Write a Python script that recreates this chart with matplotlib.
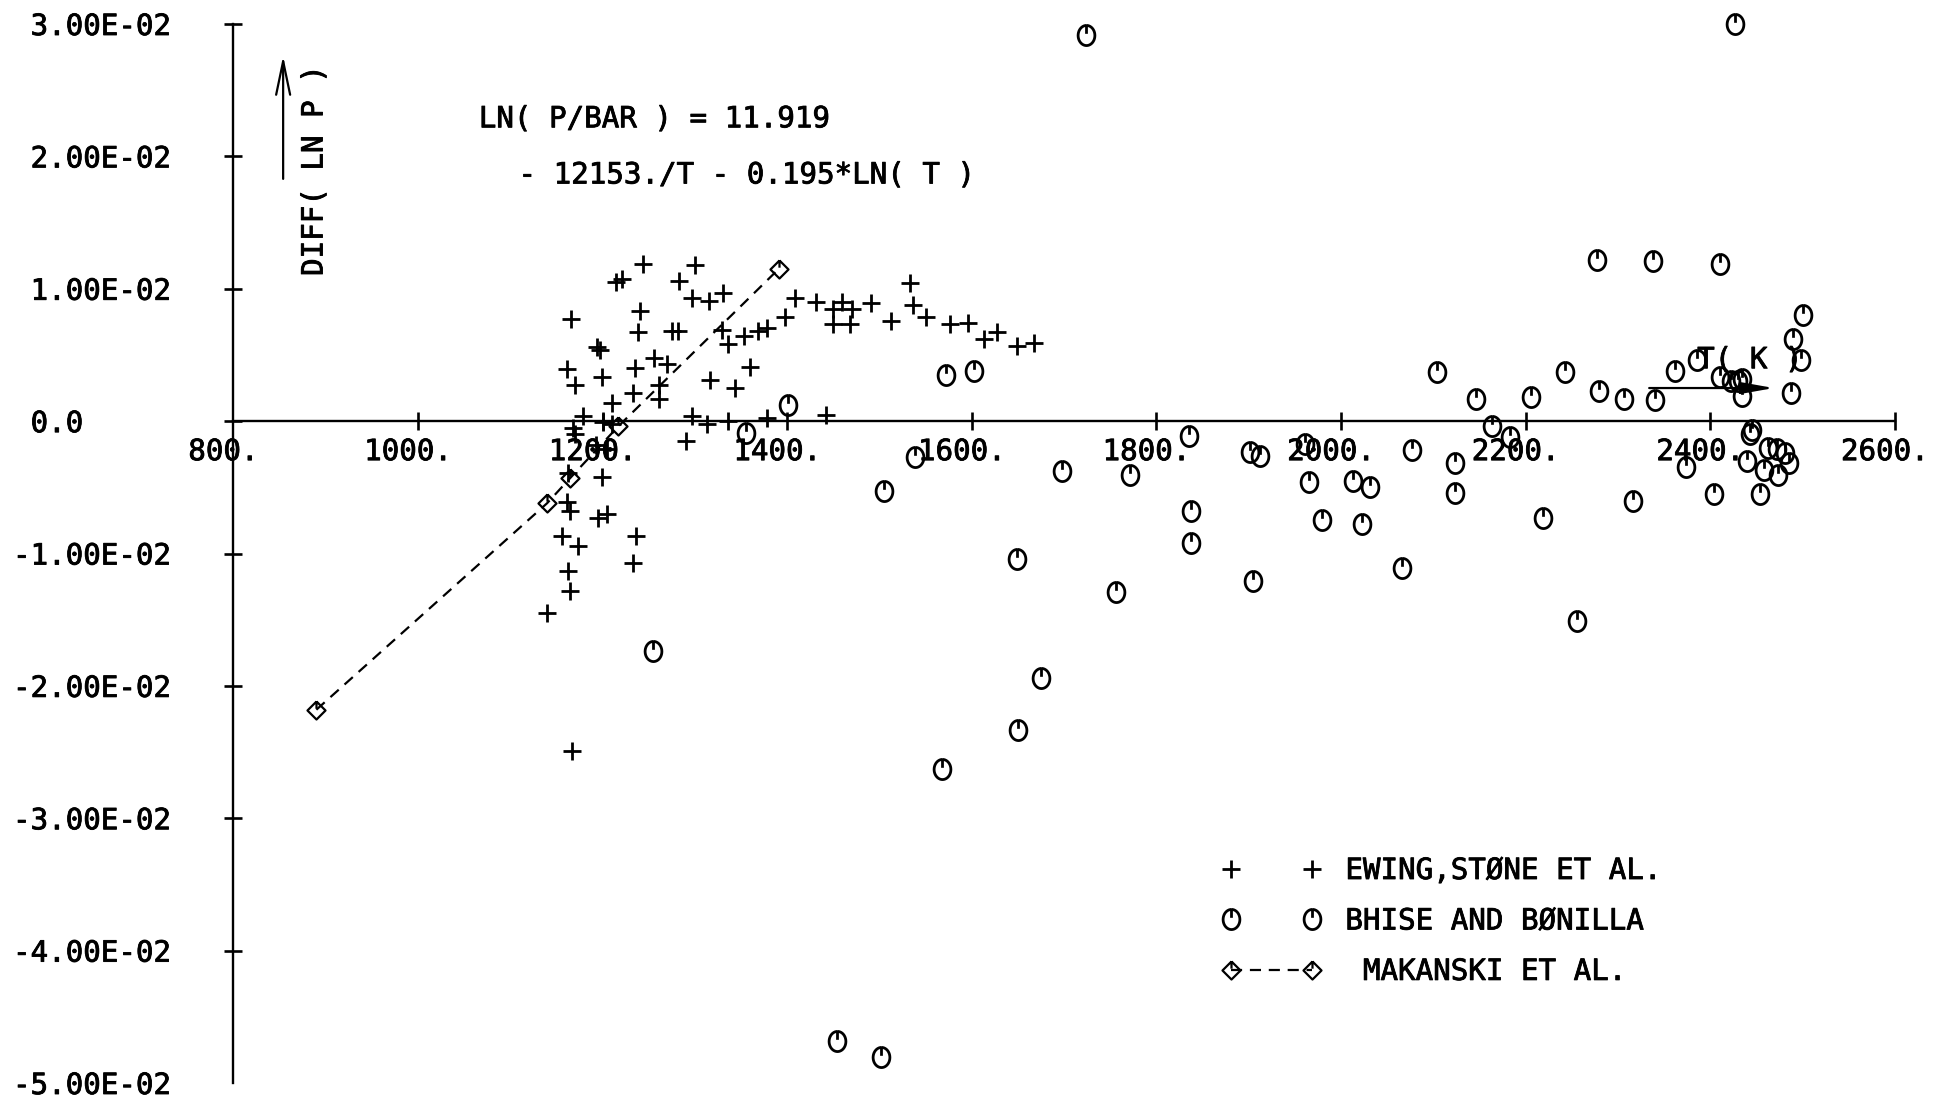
import numpy as np
import matplotlib
matplotlib.use("Agg")
import matplotlib.pyplot as plt
import matplotlib.transforms as mtransforms
import matplotlib.patheffects as pe
from matplotlib.path import Path

plt.rcParams["font.family"] = ["DejaVu Sans Mono"]
plt.rcParams["font.size"] = 21

# Ewing, Stone et al. (T in K, residual of ln P)
ewing_t = [1244, 1300, 1215, 1221, 1283, 1331, 1297, 1315, 1241, 1166,
           1238, 1275, 1282, 1330, 1336, 1353, 1369, 1378, 1398, 1409,
           1194, 1197, 1161, 1170, 1199, 1235, 1256, 1270, 1360, 1317,
           1344, 1261, 1261, 1233, 1210, 1179, 1201, 1210, 1168, 1170,
           1297, 1313, 1336, 1378, 1291, 1199, 1161, 1165, 1195, 1205,
           1156, 1173, 1236, 1233, 1163, 1165, 1140, 1167, 1163, 1431,
           1450, 1459, 1470, 1450, 1468, 1491, 1513, 1533, 1536, 1551,
           1577, 1596, 1613, 1627, 1649, 1667, 1442, 1193, 1205]
ewing_d = [0.0119, 0.0118, 0.0105, 0.0107, 0.0106, 0.0097, 0.0093, 0.0091, 0.0083, 0.0077,
           0.0067, 0.0068, 0.0068, 0.0069, 0.0058, 0.0064, 0.0068, 0.0070, 0.0079, 0.0093,
           0.0056, 0.0054, 0.0039, 0.0027, 0.0033, 0.0040, 0.0048, 0.0043, 0.0041, 0.0031,
           0.0025, 0.0027, 0.0017, 0.0021, 0.0014, 0.0004, -0.0001, -0.0002, -0.0005, -0.0010,
           0.0004, -0.0002, 0.0000, 0.0002, -0.0015, -0.0042, -0.0061, -0.0068, -0.0073, -0.0070,
           -0.0087, -0.0094, -0.0087, -0.0107, -0.0113, -0.0128, -0.0145, -0.0249, -0.0039, 0.0090,
           0.0085, 0.0090, 0.0085, 0.0073, 0.0073, 0.0089, 0.0076, 0.0104, 0.0088, 0.0079,
           0.0073, 0.0074, 0.0062, 0.0067, 0.0057, 0.0059, 0.0005, -0.0018, -0.0021]

# Bhise and Bonilla
bhise_t = [1724, 2427, 2278, 2338, 2411, 2501, 2490, 2499, 2488, 2104,
           2146, 2206, 2243, 2280, 2307, 2340, 2362, 2386, 2411, 2423,
           2430, 2435, 2435, 1401, 1355, 1539, 1572, 1603, 1505, 1698,
           1771, 1835, 1902, 1912, 1961, 1965, 2013, 2031, 2077, 2124,
           2124, 2164, 2183, 1838, 1838, 1905, 1980, 2023, 2066, 2219,
           2256, 2317, 2374, 2404, 2454, 2445, 2443, 2463, 2473, 2481,
           2485, 2474, 2458, 2440, 1649, 1675, 1650, 1568, 1756, 1255,
           1454, 1502]
bhise_d = [0.0292, 0.0300, 0.0122, 0.0121, 0.0119, 0.0080, 0.0062, 0.0046, 0.0021, 0.0037,
           0.0017, 0.0018, 0.0037, 0.0023, 0.0017, 0.0016, 0.0038, 0.0046, 0.0033, 0.0030,
           0.0030, 0.0032, 0.0019, 0.0012, -0.0009, -0.0027, 0.0035, 0.0038, -0.0053, -0.0038,
           -0.0041, -0.0011, -0.0023, -0.0026, -0.0017, -0.0046, -0.0045, -0.0050, -0.0022, -0.0032,
           -0.0054, -0.0004, -0.0012, -0.0068, -0.0092, -0.0121, -0.0075, -0.0078, -0.0111, -0.0073,
           -0.0151, -0.0060, -0.0035, -0.0055, -0.0055, -0.0007, -0.0010, -0.0020, -0.0021, -0.0024,
           -0.0032, -0.0041, -0.0037, -0.0030, -0.0104, -0.0194, -0.0233, -0.0263, -0.0129, -0.0174,
           -0.0468, -0.0480]

# Makanski et al.
makanski_t = [890, 1140, 1165, 1217, 1391]
makanski_d = [-0.0218, -0.0062, -0.0043, -0.0004, 0.0115]

xtick_vals = [800, 1000, 1200, 1400, 1600, 1800, 2000, 2200, 2400, 2600]
xtick_text = ["800.", "1000.", "1200.", "1400.", "1600.", "1800.", "2000.", "2200.", "2400.", "2600."]
ytick_vals = [0.03, 0.02, 0.01, 0.0, -0.01, -0.02, -0.03, -0.04, -0.05]
ytick_text = [" 3.00E-02", " 2.00E-02", " 1.00E-02", " 0.0", "-1.00E-02",
              "-2.00E-02", "-3.00E-02", "-4.00E-02", "-5.00E-02"]

# slightly heavier strokes for the plotter lettering
ink = [pe.withStroke(linewidth=0.6, foreground="black")]


def circle_symbol():
    # plotter style "O" with a short stroke from the top
    ang = np.linspace(0, 2 * np.pi, 41)
    verts = list(zip(0.5 * np.sin(ang), 0.6 * np.cos(ang)))
    codes = [Path.MOVETO] + [Path.LINETO] * (len(verts) - 1)
    verts += [(0, 0.6), (0, 0.1)]
    codes += [Path.MOVETO, Path.LINETO]
    return Path(verts, codes)


def diamond_symbol():
    verts = [(0, 0.5), (0.5, 0), (0, -0.5), (-0.5, 0), (0, 0.5), (0, 0.5), (0, 0.1)]
    codes = [Path.MOVETO] + [Path.LINETO] * 4 + [Path.MOVETO, Path.LINETO]
    return Path(verts, codes)


W, H = 1936, 1105
fig = plt.figure(figsize=(W / 100, H / 100), dpi=100)
ax = fig.add_axes([233.3 / W, 1 - 1083 / H, (1894.7 - 233.3) / W, (1083 - 24) / H])
ax.set_xlim(800, 2600)
ax.set_ylim(-0.05, 0.03)

ax.plot(ewing_t, ewing_d, linestyle="none", marker="+", ms=13, mew=2.0,
        color="black", clip_on=False, label="EWING,STØNE ET AL.")
ax.plot(bhise_t, bhise_d, linestyle="none", marker=circle_symbol(), ms=14.5, mew=2.0,
        mfc="none", mec="black", clip_on=False, label="BHISE AND BØNILLA")
ax.plot(makanski_t, makanski_d, linestyle=(0, (5, 3.5)), lw=1.6, color="black",
        marker=diamond_symbol(), ms=13, mew=1.6, mfc="none", mec="black",
        clip_on=False, label=" MAKANSKI ET AL.")

# axes drawn as crossing lines, x axis sits at zero
for side in ["top", "right"]:
    ax.spines[side].set_visible(False)
ax.spines["bottom"].set_position(("data", 0))
ax.spines["left"].set_linewidth(1.7)
ax.spines["bottom"].set_linewidth(1.7)
ax.set_xticks(xtick_vals[1:])
ax.set_yticks(ytick_vals[:-1])
ax.tick_params(direction="inout", length=13.5, width=1.9,
               labelbottom=False, labelleft=False)

ylab_tr = mtransforms.blended_transform_factory(fig.transFigure, ax.transData)
for v, s in zip(ytick_vals, ytick_text):
    ax.text(13 / W, v, s, transform=ylab_tr, ha="left", va="center_baseline",
            path_effects=ink)

xlab_tr = ax.transData + mtransforms.ScaledTranslation(-0.10, -0.31, fig.dpi_scale_trans)
for t, s in zip(xtick_vals, xtick_text):
    ax.text(t, 0, s, transform=xlab_tr, ha="center", va="center", path_effects=ink)

# axis titles with arrows
ax.text(888, 0.0189, "DIFF( LN P )", rotation=90, ha="center", va="center",
        path_effects=ink)
ax.annotate("", xy=(854, 0.0276), xytext=(854, 0.0183),
            arrowprops=dict(arrowstyle="->,head_length=1.15,head_width=0.24",
                            lw=1.6, color="black", shrinkA=0, shrinkB=0))
ax.text(2386, 0.0046, "T( K )", ha="left", va="center", path_effects=ink)
ax.annotate("", xy=(2469, 0.0025), xytext=(2334, 0.0025),
            arrowprops=dict(arrowstyle="-|>,head_length=0.95,head_width=0.17",
                            lw=1.6, color="black", shrinkA=0, shrinkB=0))

# fitted equation
ax.text(1066, 0.0228, "LN( P/BAR ) = 11.919", ha="left", va="center", path_effects=ink)
ax.text(1109, 0.01856, "- 12153./T - 0.195*LN( T )", ha="left", va="center",
        path_effects=ink)

leg = ax.legend(loc="upper left", bbox_to_anchor=(1222.3 / W, 1 - 857 / H),
                bbox_transform=fig.transFigure, frameon=False, numpoints=2,
                handlelength=3.38, handletextpad=0.84, labelspacing=0.77,
                borderpad=0, borderaxespad=0, fontsize=21)
for txt in leg.get_texts():
    txt.set_path_effects(ink)

fig.savefig("out.png", dpi=100)
